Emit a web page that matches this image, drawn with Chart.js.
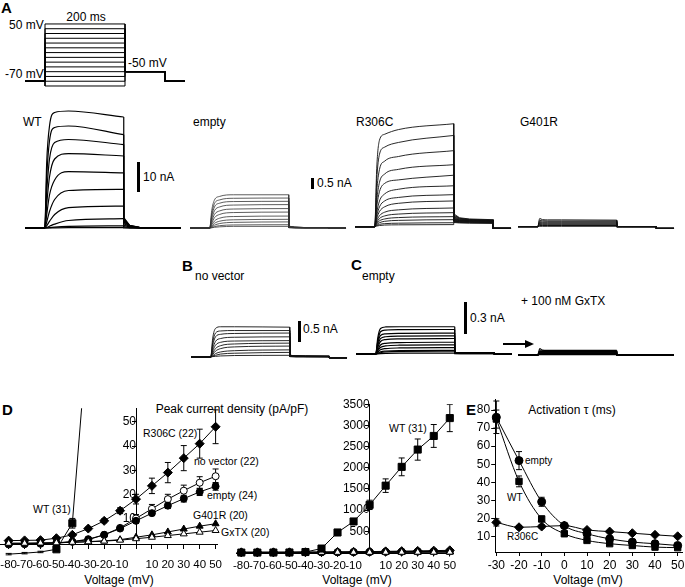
<!DOCTYPE html>
<html lang="en">
<head>
<meta charset="UTF-8">
<title>Kv2.1 currents, I-V and activation</title>
<script src="https://cdn.jsdelivr.net/npm/chart.js"></script>
<style>
  body { margin: 0; background: #fff; }
  #fig { position: relative; width: 685px; height: 587px; overflow: hidden;
         font-family: "Liberation Sans", Arial, sans-serif; color: #000; }
  .t { position: absolute; font-size: 12px; line-height: 12px; white-space: nowrap; }
  .s { font-size: 10.5px; }
  .xs { font-size: 10px; }
  .c { transform: translateX(-50%); }
  .lbl { position: absolute; font-size: 15px; line-height: 15px; font-weight: bold; }
  .bar { position: absolute; width: 2.5px; background: #000; }
  canvas { position: absolute; }
</style>
</head>
<body>
<div id="fig">
  <!-- panel A -->
  <div class="lbl" style="left:1px;top:0px">A</div>
  <div class="t c" style="left:86px;top:11px">200 ms</div>
  <div class="t" style="left:9px;top:19px">50 mV</div>
  <div class="t" style="left:5px;top:68px">-70 mV</div>
  <div class="t" style="left:128px;top:57px">-50 mV</div>
  <div class="t" style="left:23px;top:116px">WT</div>
  <div class="t" style="left:193px;top:116px">empty</div>
  <div class="t" style="left:356px;top:116px">R306C</div>
  <div class="t" style="left:520px;top:116px">G401R</div>
  <div class="bar" style="left:137px;top:162px;height:30px"></div>
  <div class="t" style="left:143px;top:171px">10 nA</div>
  <div class="bar" style="left:311px;top:178px;height:11px"></div>
  <div class="t" style="left:317px;top:177px">0.5 nA</div>

  <!-- panels B, C -->
  <div class="lbl" style="left:182px;top:258px">B</div>
  <div class="t" style="left:195px;top:270px">no vector</div>
  <div class="lbl" style="left:351px;top:257px">C</div>
  <div class="t" style="left:362px;top:270px">empty</div>
  <div class="bar" style="left:298px;top:321px;height:21px"></div>
  <div class="t" style="left:303px;top:323px">0.5 nA</div>
  <div class="bar" style="left:464px;top:302px;height:32px"></div>
  <div class="t" style="left:470px;top:312px">0.3 nA</div>
  <div class="t" style="left:521px;top:295px">+ 100 nM GxTX</div>
  <svg style="position:absolute;left:503px;top:339px" width="31" height="10">
    <line x1="0" y1="5" x2="24" y2="5" stroke="#000" stroke-width="2"/>
    <polygon points="22,1 31,5 22,9" fill="#000"/>
  </svg>

  <!-- panel D -->
  <div class="lbl" style="left:2px;top:402px">D</div>
  <div class="t c" style="left:232px;top:403px">Peak current density (pA/pF)</div>
  <div class="t s" style="left:143px;top:427px">R306C (22)</div>
  <div class="t s" style="left:194px;top:455px">no vector (22)</div>
  <div class="t s" style="left:207px;top:489px">empty (24)</div>
  <div class="t s" style="left:193px;top:509px">G401R (20)</div>
  <div class="t s" style="left:221px;top:526px">GxTX (20)</div>
  <div class="t s" style="left:33px;top:503px">WT (31)</div>
  <div class="t s" style="left:389px;top:422px">WT (31)</div>
  <div class="t c" style="left:119px;top:574px">Voltage (mV)</div>
  <div class="t c" style="left:357px;top:574px">Voltage (mV)</div>

  <!-- panel E -->
  <div class="lbl" style="left:466px;top:402px">E</div>
  <div class="t c" style="left:572px;top:404px">Activation &tau; (ms)</div>
  <div class="t xs" style="left:525px;top:455px">empty</div>
  <div class="t xs" style="left:507px;top:492px">WT</div>
  <div class="t xs" style="left:507px;top:531px">R306C</div>
  <div class="t c" style="left:588px;top:574px">Voltage (mV)</div>
</div>

<script>
// ---------- data ----------
// voltage protocol (mV)
const stepVoltages = [-80, -70, -60, -50, -40, -30, -20, -10, 0, 10, 20, 30, 40, 50];
const holdingMv = -70;
const tailMv = -50;

// sampled sweep times (ms): pulse part, then tail part at -50 mV
const pulseT = [0, 5, 12, 25, 60, 200];
const tailT = [200, 215, 240, 300];

// each row: current at pulseT, then at tailT (nA)
const wtRows = [
  [0, 22, 34, 38.5, 39, 37, 3.5, 0.9, 0.2, 0],
  [0, 17, 29, 33.5, 34, 31.1, 3.1, 0.8, 0.2, 0],
  [0, 12, 23, 28.5, 29.5, 27.8, 2.8, 0.7, 0.15, 0],
  [0, 8, 17, 23, 24.8, 24, 2.4, 0.6, 0.1, 0],
  [0, 4.5, 11, 16, 18.8, 18.4, 2, 0.5, 0.1, 0],
  [0, 2, 5.5, 9.5, 12.5, 12.9, 1.5, 0.4, 0.05, 0],
  [0, 0.8, 2.2, 4.5, 6.8, 7.3, 1, 0.25, 0, 0],
  [0, 0.2, 0.6, 1.3, 2.5, 3.1, 0.5, 0.1, 0, 0],
  [0, 0.05, 0.1, 0.3, 0.55, 0.7, 0.15, 0, 0, 0],
  [0, 0, 0, 0.05, 0.1, 0.1, 0, 0, 0, 0]
];
const emptyRows = [
  [0, 0.75, 1.2, 1.35, 1.42, 1.42, 0.08, 0.04, 0.02, 0.02],
  [0, 0.6, 1.05, 1.2, 1.27, 1.28, 0.07, 0.04, 0.02, 0.02],
  [0, 0.5, 0.9, 1.06, 1.13, 1.14, 0.07, 0.03, 0.02, 0.02],
  [0, 0.38, 0.74, 0.9, 0.98, 1.0, 0.06, 0.03, 0.02, 0.02],
  [0, 0.28, 0.58, 0.73, 0.81, 0.83, 0.05, 0.03, 0.01, 0.01],
  [0, 0.2, 0.44, 0.58, 0.66, 0.68, 0.05, 0.02, 0.01, 0.01],
  [0, 0.13, 0.3, 0.42, 0.49, 0.51, 0.04, 0.02, 0.01, 0.01],
  [0, 0.08, 0.2, 0.29, 0.35, 0.37, 0.03, 0.02, 0.01, 0.01],
  [0, 0.05, 0.12, 0.19, 0.24, 0.26, 0.03, 0.01, 0.01, 0.01],
  [0, 0.02, 0.06, 0.1, 0.13, 0.14, 0.02, 0.01, 0, 0],
  [0, 0.01, 0.03, 0.05, 0.07, 0.07, 0.01, 0, 0, 0]
];
const r306cRows = [
  [0, 2.5, 3.7, 3.95, 4.15, 4.4, 0.55, 0.38, 0.33, 0.3],
  [0, 2.0, 3.1, 3.4, 3.6, 3.9, 0.5, 0.36, 0.31, 0.28],
  [0, 1.5, 2.45, 2.8, 3.0, 3.25, 0.46, 0.34, 0.3, 0.27],
  [0, 1.1, 1.9, 2.25, 2.45, 2.65, 0.42, 0.32, 0.29, 0.26],
  [0, 0.85, 1.5, 1.85, 2.0, 2.2, 0.38, 0.3, 0.27, 0.25],
  [0, 0.6, 1.1, 1.4, 1.6, 1.75, 0.35, 0.28, 0.26, 0.24],
  [0, 0.45, 0.85, 1.1, 1.25, 1.37, 0.32, 0.27, 0.25, 0.23],
  [0, 0.35, 0.65, 0.85, 1.0, 1.1, 0.3, 0.26, 0.24, 0.22],
  [0, 0.25, 0.47, 0.62, 0.72, 0.8, 0.28, 0.24, 0.22, 0.2],
  [0, 0.18, 0.35, 0.46, 0.54, 0.6, 0.26, 0.22, 0.21, 0.19],
  [0, 0.13, 0.25, 0.33, 0.39, 0.43, 0.24, 0.21, 0.2, 0.18],
  [0, 0.09, 0.17, 0.23, 0.27, 0.3, 0.22, 0.2, 0.19, 0.17],
  [0, 0.05, 0.1, 0.13, 0.15, 0.17, 0.2, 0.18, 0.17, 0.16],
  [0, 0.03, 0.05, 0.07, 0.08, 0.09, 0.18, 0.16, 0.15, 0.14]
];
const g401rRows = [
  [0, 0.35, 0.3, 0.29, 0.29, 0.28, 0, 0, 0, 0],
  [0, 0.26, 0.25, 0.24, 0.24, 0.24, 0, 0, 0, 0],
  [0, 0.21, 0.2, 0.2, 0.2, 0.2, 0, 0, 0, 0],
  [0, 0.17, 0.16, 0.16, 0.16, 0.16, 0, 0, 0, 0],
  [0, 0.13, 0.12, 0.12, 0.12, 0.12, 0, 0, 0, 0],
  [0, 0.09, 0.08, 0.08, 0.08, 0.08, 0, 0, 0, 0],
  [0, 0.05, 0.05, 0.05, 0.05, 0.05, 0, 0, 0, 0],
  [0, 0.02, 0.02, 0.02, 0.02, 0.02, 0, 0, 0, 0]
];
const noVectorRows = [
  [0, 0.45, 0.68, 0.72, 0.72, 0.71, 0.04, 0.03, 0.03, 0.02],
  [0, 0.35, 0.57, 0.62, 0.63, 0.63, 0.04, 0.03, 0.02, 0.02],
  [0, 0.28, 0.48, 0.54, 0.56, 0.57, 0.04, 0.03, 0.02, 0.02],
  [0, 0.2, 0.37, 0.44, 0.47, 0.48, 0.03, 0.02, 0.02, 0.02],
  [0, 0.14, 0.28, 0.35, 0.38, 0.39, 0.03, 0.02, 0.02, 0.01],
  [0, 0.09, 0.2, 0.27, 0.31, 0.33, 0.03, 0.02, 0.01, 0.01],
  [0, 0.06, 0.14, 0.2, 0.24, 0.26, 0.02, 0.02, 0.01, 0.01],
  [0, 0.03, 0.08, 0.12, 0.15, 0.17, 0.02, 0.01, 0.01, 0.01],
  [0, 0.02, 0.04, 0.07, 0.09, 0.11, 0.01, 0.01, 0.01, 0],
  [0, 0.01, 0.015, 0.025, 0.035, 0.04, 0.01, 0, 0, 0]
];
const emptyCRows = [
  [0, 0.15, 0.24, 0.255, 0.257, 0.257, 0.012, 0.01, 0.01, 0.01],
  [0, 0.12, 0.21, 0.226, 0.23, 0.231, 0.012, 0.01, 0.01, 0.01],
  [0, 0.1, 0.175, 0.19, 0.195, 0.197, 0.011, 0.01, 0.01, 0.01],
  [0, 0.08, 0.145, 0.163, 0.169, 0.171, 0.011, 0.01, 0.01, 0.01],
  [0, 0.06, 0.118, 0.136, 0.143, 0.146, 0.01, 0.009, 0.008, 0.008],
  [0, 0.04, 0.085, 0.101, 0.108, 0.111, 0.01, 0.008, 0.008, 0.008],
  [0, 0.03, 0.062, 0.076, 0.083, 0.086, 0.009, 0.008, 0.007, 0.007],
  [0, 0.018, 0.04, 0.051, 0.057, 0.06, 0.008, 0.007, 0.006, 0.006],
  [0, 0.008, 0.02, 0.027, 0.032, 0.034, 0.006, 0.005, 0.005, 0.005],
  [0, 0.005, 0.012, 0.019, 0.024, 0.026, 0.005, 0.004, 0.004, 0.004],
  [0, 0.002, 0.004, 0.006, 0.008, 0.009, 0.003, 0.003, 0.003, 0.003]
];
const gxtxRows = [
  [0, 0.06, 0.046, 0.044, 0.043, 0.043, 0, 0, 0, 0],
  [0, 0.04, 0.039, 0.038, 0.038, 0.038, 0, 0, 0, 0],
  [0, 0.034, 0.034, 0.034, 0.034, 0.034, 0, 0, 0, 0],
  [0, 0.03, 0.03, 0.03, 0.03, 0.03, 0, 0, 0, 0],
  [0, 0.026, 0.026, 0.026, 0.026, 0.026, 0, 0, 0, 0],
  [0, 0.021, 0.021, 0.021, 0.021, 0.021, 0, 0, 0, 0],
  [0, 0.017, 0.017, 0.017, 0.017, 0.017, 0, 0, 0, 0],
  [0, 0.013, 0.013, 0.013, 0.013, 0.013, 0, 0, 0, 0],
  [0, 0.009, 0.009, 0.009, 0.009, 0.009, 0, 0, 0, 0],
  [0, 0.004, 0.004, 0.004, 0.004, 0.004, 0, 0, 0, 0]
];

// peak current density (pA/pF) vs voltage
const ivVoltages = [-80, -70, -60, -50, -40, -30, -20, -10, 0, 10, 20, 30, 40, 50];
const wtDensity = [-4.8, -4.4, -3.9, -2.8, 8, 90, 470, 730, 1122, 1576, 2020, 2428, 2750, 3172];
const wtDensityErr = [0.3, 0.3, 0.3, 0.3, 2, 20, 40, 50, 110, 160, 210, 250, 270, 320];
const r306cDensity = [0.8, 0.9, 1.0, 1.8, 3.2, 5.8, 9, 13.2, 18, 23.5, 29, 35, 41, 48];
const r306cDensityErr = [0.3, 0.3, 0.3, 0.4, 0.5, 0.6, 0.8, 1.2, 2, 3.2, 4.2, 5.2, 6, 7];
const noVectorDensity = [-0.8, -0.7, -0.5, -0.2, 0.3, 1.2, 3.2, 6.1, 10, 14, 18, 21.5, 24.8, 27.5];
const noVectorDensityErr = [0.3, 0.3, 0.3, 0.3, 0.3, 0.4, 0.6, 0.8, 1.6, 1.8, 2, 2.3, 2.5, 3];
const emptyDensity = [-0.6, -0.5, -0.4, -0.1, 0.4, 1.4, 3.2, 5.8, 9, 12.2, 15.3, 18.2, 21, 23.3];
const emptyDensityErr = [0.3, 0.3, 0.3, 0.3, 0.3, 0.4, 0.5, 0.7, 1, 1, 1.2, 1.4, 1.5, 1.6];
const g401rDensity = [-0.3, -0.3, -0.2, -0.1, 0.1, 0.4, 0.7, 1.2, 2.2, 3.2, 4.4, 5.6, 6.8, 7.8];
const gxtxDensity = [-0.3, -0.3, -0.2, -0.1, 0.1, 0.3, 0.6, 1.0, 1.6, 2.2, 2.9, 3.6, 4.3, 5];

// activation time constant (ms)
const tauVoltages = [-30, -20, -10, 0, 10, 20, 30, 40, 50];
const tauWT = [75, 40.5, 19.7, 11.5, 7.8, 6, 5, 4.1, 3.8];
const tauWTErr = [5, 3, 1.5, 1, 0.6, 0.5, 0.4, 0.4, 0.3];
const tauEmpty = [76, 52, 29.2, 16, 11.5, 8.7, 6.9, 6, 5];
const tauEmptyErr = [9, 5, 2.5, 1.2, 0.8, 0.6, 0.5, 0.4, 0.4];
const tauR306C = [17.8, 15.1, 15.5, 16, 13.6, 12.7, 11.8, 10.9, 10.1];
const tauR306CErr = [2, 1, 1, 0.8, 0.6, 0.5, 0.4, 0.4, 0.4];

// tick labels
const ivTicksX = [-80, -70, -60, -50, -40, -30, -20, -10, 0, 10, 20, 30, 40, 50];
const ivTicksSmall = [10, 20, 30, 40, 50];
const ivTicksLarge = [500, 1000, 1500, 2000, 2500, 3000, 3500];
const tauTicksX = [-30, -20, -10, 0, 10, 20, 30, 40, 50];
const tauTicksY = [10, 20, 30, 40, 50, 60, 70, 80];

// ---------- setup ----------
Chart.defaults.font.family = '"Liberation Sans", Arial, sans-serif';
Chart.defaults.font.size = 12;
Chart.defaults.color = '#000';
Chart.defaults.animation = false;
Chart.defaults.events = [];
Chart.defaults.plugins.legend.display = false;
Chart.defaults.plugins.tooltip.enabled = false;

const fig = document.getElementById('fig');
function makeCanvas(left, top, w, h) {
  const c = document.createElement('canvas');
  c.width = w; c.height = h;
  c.style.left = left + 'px'; c.style.top = top + 'px';
  c.style.width = w + 'px'; c.style.height = h + 'px';
  fig.appendChild(c);
  return c;
}

// error bars drawn under the markers
const errorBars = {
  id: 'errorBars',
  beforeDatasetsDraw(chart) {
    const ctx = chart.ctx, a = chart.chartArea, ys = chart.scales.y;
    ctx.save();
    ctx.beginPath();
    ctx.rect(a.left - 10, a.top, a.right - a.left + 20, a.bottom - a.top + 20);
    ctx.clip();
    ctx.strokeStyle = '#000';
    ctx.lineWidth = 1;
    chart.data.datasets.forEach((ds, i) => {
      if (!ds.errors) return;
      chart.getDatasetMeta(i).data.forEach((pt, j) => {
        const e = ds.errors[j];
        if (!e) return;
        const v = ds.data[j].y;
        const top = ys.getPixelForValue(v + e), bot = ys.getPixelForValue(v - e);
        ctx.beginPath();
        ctx.moveTo(pt.x, top); ctx.lineTo(pt.x, bot);
        ctx.moveTo(pt.x - 3, top); ctx.lineTo(pt.x + 3, top);
        ctx.moveTo(pt.x - 3, bot); ctx.lineTo(pt.x + 3, bot);
        ctx.stroke();
      });
    });
    ctx.restore();
  }
};

// ---------- panel A protocol ----------
new Chart(makeCanvas(25, 20, 160, 70), {
  type: 'line',
  data: {
    datasets: stepVoltages.map(v => ({
      data: [
        { x: -50, y: holdingMv }, { x: 0, y: holdingMv }, { x: 0, y: v }, { x: 200, y: v },
        { x: 200, y: tailMv }, { x: 300, y: tailMv }, { x: 300, y: holdingMv }, { x: 350, y: holdingMv }
      ],
      borderColor: '#000', borderWidth: 1, pointRadius: 0
    }))
  },
  options: {
    responsive: false,
    scales: {
      x: { type: 'linear', display: false, min: -50, max: 350 },
      y: { type: 'linear', display: false, min: -88.4, max: 58.3 }
    }
  }
});

// ---------- current traces ----------
function sweepSets(rows, after, color, width) {
  const n = pulseT.length, sets = [];
  rows.forEach(r => {
    const pulse = [{ x: -50, y: 0 }].concat(pulseT.map((t, i) => ({ x: t, y: r[i] })));
    const tail = [{ x: 200, y: r[n - 1] }]
      .concat(tailT.map((t, i) => ({ x: t, y: r[n + i] })))
      .concat([{ x: 300, y: after }, { x: 345, y: after }]);
    sets.push({ data: pulse, borderColor: color, borderWidth: width, pointRadius: 0, cubicInterpolationMode: 'monotone' });
    sets.push({ data: tail, borderColor: color, borderWidth: width, pointRadius: 0 });
  });
  return sets;
}

function traceChart(left, top, w, h, base, ppu, sets) {
  new Chart(makeCanvas(left, top, w, h), {
    type: 'line',
    data: { datasets: sets },
    options: {
      responsive: false,
      scales: {
        x: { type: 'linear', display: false, min: -50, max: 350 },
        y: { type: 'linear', display: false, min: -(h - base) / ppu, max: base / ppu }
      }
    }
  });
}

traceChart(25, 100, 158, 140, 128, 3, sweepSets(wtRows, 0, '#000', 1.2));
traceChart(190, 150, 158, 90, 78, 23.4, sweepSets(emptyRows, 0, '#333', 0.8));
traceChart(355, 110, 158, 135, 116.7, 23.4, sweepSets(r306cRows, -0.07, '#111', 0.9));
traceChart(518, 200, 158, 45, 26.7, 23.4, sweepSets(g401rRows, -0.07, '#111', 1));
traceChart(191, 310, 158, 60, 47, 42, sweepSets(noVectorRows, -0.02, '#111', 0.9));
traceChart(356, 310, 158, 60, 44, 106, sweepSets(emptyCRows, 0, '#000', 1.2));
traceChart(518, 330, 158, 40, 25, 106, sweepSets(gxtxRows, 0, '#000', 1.2));

// ---------- axes helpers ----------
// tickLen sets how far below the axis the labels sit; the dash keeps the visible tick short
function xAxis(min, max, ticks, fontSize, tickLen) {
  return {
    type: 'linear', min, max, position: 'bottom',
    afterBuildTicks: s => { s.ticks = ticks.map(v => ({ value: v })); },
    afterFit: s => { s.height = 30; },
    ticks: { autoSkip: false, maxRotation: 0, minRotation: 0, padding: 2,
             font: { size: fontSize }, callback: v => (v === 0 && min < -40) ? '' : String(v) },
    grid: { drawOnChartArea: false, color: '#000', tickLength: tickLen, tickBorderDash: [4, 60] },
    border: { color: '#000' }
  };
}
function yAxis(min, max, ticks, position, pad, fitWidth) {
  const o = {
    type: 'linear', min, max, position,
    afterBuildTicks: s => { s.ticks = ticks.map(v => ({ value: v })); },
    ticks: { padding: pad, font: { size: 12 }, callback: v => String(v) },
    grid: { drawOnChartArea: false, color: '#000', tickLength: 4 },
    border: { color: '#000' }
  };
  if (fitWidth) o.afterFit = s => { s.width = fitWidth; };
  return o;
}
function series(xs, ys, errs, style) {
  return Object.assign({
    data: xs.map((x, i) => ({ x, y: ys[i] })),
    errors: errs,
    borderColor: '#000', borderWidth: 1,
    pointBorderColor: '#000', pointBorderWidth: 1, pointBackgroundColor: '#000',
    clip: 10
  }, style);
}
const diamond = { pointStyle: 'rectRot', pointRadius: 4.5 };
const square = { pointStyle: 'rect', pointRadius: 5 };
const dot = { pointStyle: 'circle', pointRadius: 3.5 };
const ring = { pointStyle: 'circle', pointRadius: 3.5, pointBackgroundColor: '#fff' };
const tri = { pointStyle: 'triangle', pointRadius: 4 };
const openTri = { pointStyle: 'triangle', pointRadius: 4, pointBackgroundColor: '#fff' };

function ivSets(wtClip) {
  return [
    series(ivVoltages, wtDensity, wtDensityErr, Object.assign({ clip: wtClip }, square)),
    series(ivVoltages, gxtxDensity, null, openTri),
    series(ivVoltages, g401rDensity, null, tri),
    series(ivVoltages, emptyDensity, emptyDensityErr, dot),
    series(ivVoltages, noVectorDensity, noVectorDensityErr, ring),
    series(ivVoltages, r306cDensity, r306cDensityErr, diamond)
  ];
}

// ---------- panel D, small scale ----------
new Chart(makeCanvas(-13, 400, 238, 174), {
  type: 'line',
  data: { datasets: ivSets({ left: 10, top: 0, right: 10, bottom: 20 }) },
  options: {
    responsive: false,
    layout: { padding: { left: 13.7, right: 7.8, top: 5, bottom: 0 } },
    scales: {
      x: xAxis(-85, 51, ivTicksX, 11.5, 12),
      y: yAxis(-0.6, 55.7, ivTicksSmall, { x: 0 }, 1)
    }
  },
  plugins: [errorBars]
});

// ---------- panel D, full scale ----------
new Chart(makeCanvas(224, 395, 237, 188), {
  type: 'line',
  data: { datasets: ivSets(10) },
  options: {
    responsive: false,
    layout: { padding: { left: 12.5, right: 8, top: 5.7, bottom: 0 } },
    scales: {
      x: xAxis(-83, 52, ivTicksX, 11.5, 3.5),
      y: yAxis(-15, 3500, ivTicksLarge, { x: 0 }, 2)
    }
  },
  plugins: [errorBars]
});

// ---------- panel E ----------
const mono = { cubicInterpolationMode: 'monotone' };
new Chart(makeCanvas(468, 391, 220, 191), {
  type: 'line',
  data: {
    datasets: [
      series(tauVoltages, tauR306C, tauR306CErr, Object.assign({}, diamond, mono)),
      series(tauVoltages, tauWT, tauWTErr, Object.assign({}, square, { pointRadius: 4.5 }, mono)),
      series(tauVoltages, tauEmpty, tauEmptyErr, Object.assign({}, dot, { pointRadius: 4 }, mono))
    ]
  },
  options: {
    responsive: false,
    layout: { padding: { left: 5.2, right: 5.8, top: 5.7, bottom: 0 } },
    scales: {
      x: xAxis(-30.5, 52, tauTicksX, 12, 4),
      y: yAxis(1.4, 86, tauTicksY, 'left', 1, 22)
    }
  },
  plugins: [errorBars]
});
</script>
</body>
</html>
